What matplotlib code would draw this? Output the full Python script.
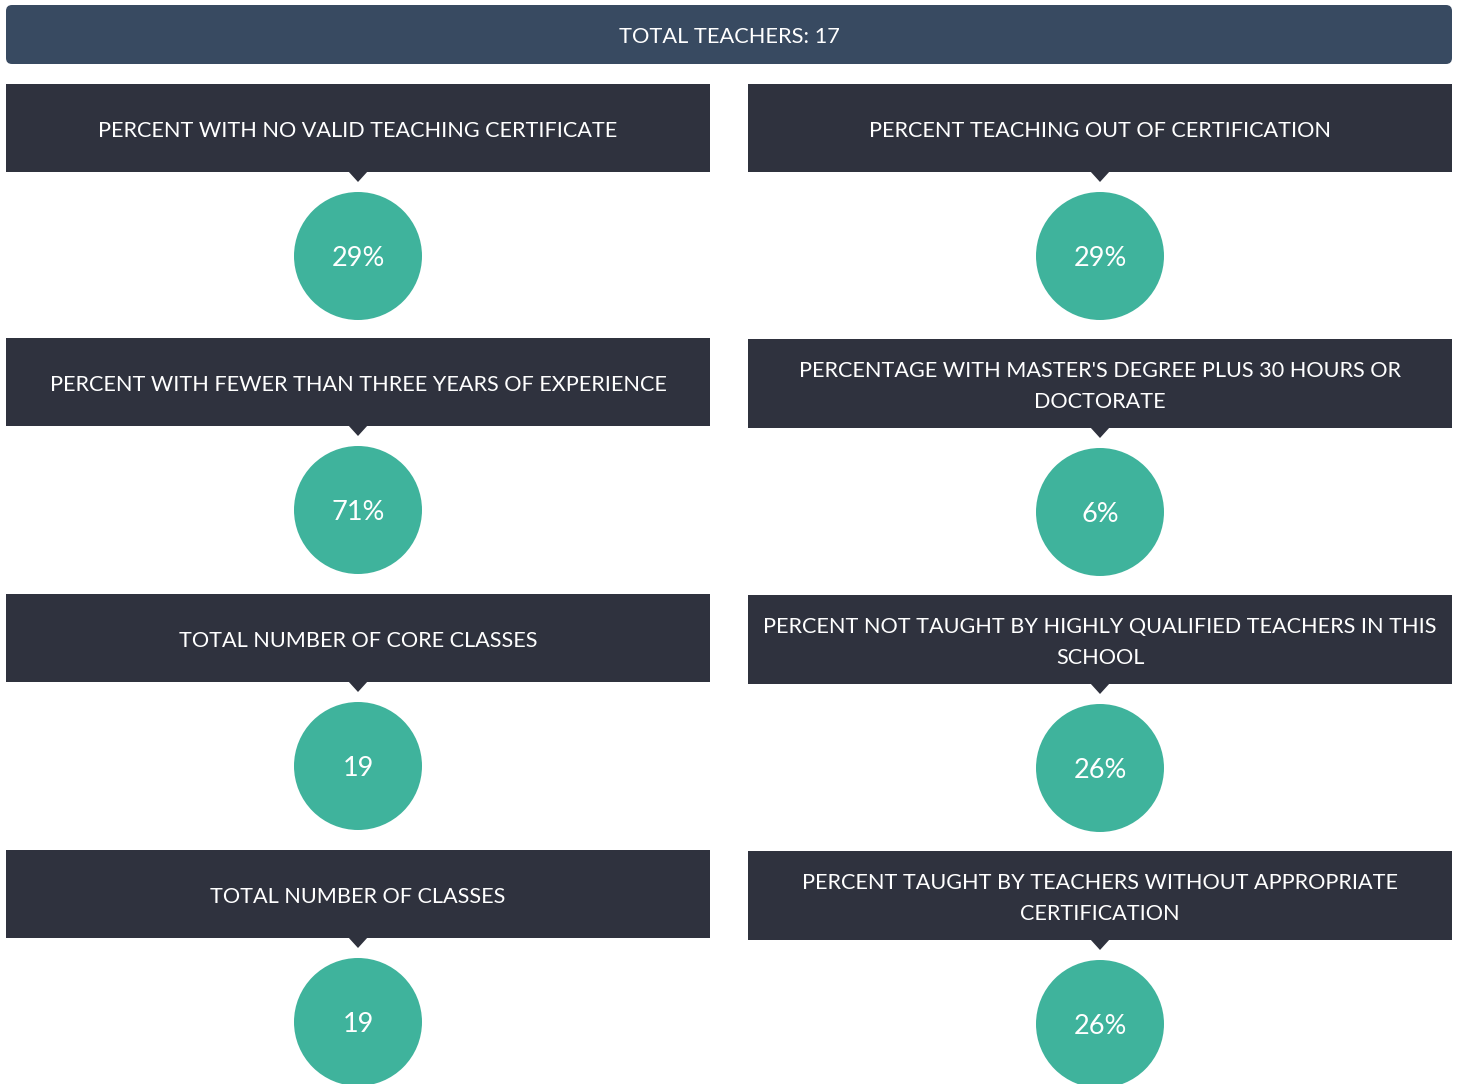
import matplotlib
matplotlib.use("Agg")
import matplotlib.pyplot as plt
from matplotlib.patches import FancyBboxPatch, Rectangle, Circle, Polygon

plt.rcParams['font.family'] = ['Lato', 'DejaVu Sans']

title_text = "TOTAL TEACHERS: 17"
left_labels = [
    "PERCENT WITH NO VALID TEACHING CERTIFICATE",
    "PERCENT WITH FEWER THAN THREE YEARS OF EXPERIENCE",
    "TOTAL NUMBER OF CORE CLASSES",
    "TOTAL NUMBER OF CLASSES",
]
left_values = ["29%", "71%", "19", "19"]
right_labels = [
    "PERCENT TEACHING OUT OF CERTIFICATION",
    "PERCENTAGE WITH MASTER'S DEGREE PLUS 30 HOURS OR\nDOCTORATE",
    "PERCENT NOT TAUGHT BY HIGHLY QUALIFIED TEACHERS IN THIS\nSCHOOL",
    "PERCENT TAUGHT BY TEACHERS WITHOUT APPROPRIATE\nCERTIFICATION",
]
right_values = ["29%", "6%", "26%", "26%"]

W, H = 1459, 1084
fig = plt.figure(figsize=(W / 100, H / 100), dpi=100)
ax = fig.add_axes([0, 0, 1, 1])
ax.set_xlim(0, W)
ax.set_ylim(H, 0)
ax.axis('off')

TOP_COLOR = "#384a61"
HEAD_COLOR = "#2f323e"
TEAL = "#3fb39c"

# top banner
ax.add_patch(FancyBboxPatch((6, 5), 1446, 59, boxstyle="round,pad=0,rounding_size=6",
                            facecolor=TOP_COLOR, edgecolor="none"))
ax.text(729, 37, title_text, color="white", fontsize=15.7, ha="center", va="center")

def panel(x0, x1, ytop, hh, label, value):
    cx = (x0 + x1) / 2
    ax.add_patch(Rectangle((x0, ytop), x1 - x0, hh, facecolor=HEAD_COLOR, edgecolor="none"))
    ax.add_patch(Polygon([(cx - 10, ytop + hh - 1), (cx + 10, ytop + hh - 1), (cx, ytop + hh + 10)],
                         closed=True, facecolor=HEAD_COLOR, edgecolor="none"))
    ax.text(cx, ytop + hh / 2 + 3, label, color="white", fontsize=15.6, ha="center", va="center",
            linespacing=1.65)
    cy = ytop + hh + 84
    ax.add_patch(Circle((cx, cy), 64, facecolor=TEAL, edgecolor="none"))
    ax.text(cx, cy + 2, value, color="white", fontsize=19.5,
            ha="center", va="center")

left_tops = [84, 338, 594, 850]
right_tops = [84, 339, 595, 851]
right_heights = [88, 89, 89, 89]
for i in range(4):
    panel(6, 710, left_tops[i], 88, left_labels[i], left_values[i])
    panel(748, 1452, right_tops[i], right_heights[i], right_labels[i], right_values[i])

fig.savefig("out.png", dpi=100, facecolor="white")
